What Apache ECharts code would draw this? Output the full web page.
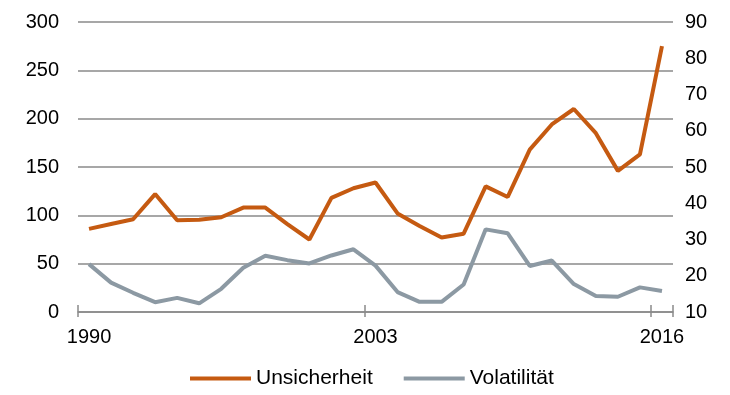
<!DOCTYPE html>
<html>
<head>
<meta charset="utf-8">
<script src="https://cdn.jsdelivr.net/npm/echarts@6/dist/echarts.min.js"></script>
<style>html,body{margin:0;padding:0;background:#fff;}#c{width:730px;height:395px;}</style>
</head>
<body>
<div id="c"></div>
<script>
const years = ['1990','1991','1992','1993','1994','1995','1996','1997','1998','1999','2000','2001','2002','2003','2004','2005','2006','2007','2008','2009','2010','2011','2012','2013','2014','2015','2016'];
const unsicherheit = [86, 91, 96, 122, 95, 95.5, 98, 108, 108, 91, 75, 118, 128, 134, 102, 89, 77, 81, 130, 119, 168, 194, 210, 185, 146, 163, 275];
const volatilitaet = [23.2, 18.1, 15.3, 12.7, 13.9, 12.4, 16.4, 22.2, 25.5, 24.3, 23.4, 25.6, 27.3, 22.8, 15.5, 12.8, 12.8, 17.6, 32.8, 31.7, 22.7, 24.2, 17.7, 14.4, 14.2, 16.8, 15.8];
const leftTicks = {min: 0, max: 300, interval: 50};
const rightTicks = {min: 10, max: 90, interval: 10};

const chart = echarts.init(document.getElementById('c'), null, {renderer: 'canvas'});
const font = 'Liberation Sans, Arial, sans-serif';
const gridColor = '#8a8a8a';
chart.setOption({
  animation: false,
  backgroundColor: '#ffffff',
  grid: {left: 78, right: 57, top: 22, bottom: 83, containLabel: false},
  legend: {
    left: 185, top: 363,
    icon: 'rect', itemWidth: 61, itemHeight: 4, itemGap: 31,
    textStyle: {fontFamily: font, fontSize: 21, color: '#000'},
    data: ['Unsicherheit', 'Volatilität']
  },
  xAxis: [{
    type: 'category', data: years, boundaryGap: true,
    axisLine: {show: true, lineStyle: {color: gridColor, width: 1.5}},
    axisTick: {show: true, interval: 12, length: 5, lineStyle: {color: gridColor, width: 1.5}},
    axisLabel: {interval: 12, margin: 15, fontFamily: font, fontSize: 20, color: '#000'},
    splitLine: {show: false}
  }, {
    type: 'category', data: years, boundaryGap: true, position: 'bottom',
    axisLine: {show: false},
    axisTick: {show: true, inside: true, interval: 12, length: 7, lineStyle: {color: gridColor, width: 1.5}},
    axisLabel: {show: false},
    splitLine: {show: false}
  }],
  yAxis: [{
    type: 'value', position: 'left',
    min: leftTicks.min, max: leftTicks.max, interval: leftTicks.interval,
    axisLine: {show: false}, axisTick: {show: false},
    axisLabel: {margin: 19, fontFamily: font, fontSize: 20, color: '#000'},
    splitLine: {show: true, lineStyle: {color: gridColor, width: 1.5}}
  }, {
    type: 'value', position: 'right',
    min: rightTicks.min, max: rightTicks.max, interval: rightTicks.interval,
    axisLine: {show: false}, axisTick: {show: false},
    axisLabel: {margin: 12, fontFamily: font, fontSize: 20, color: '#000'},
    splitLine: {show: false}
  }],
  series: [{
    name: 'Unsicherheit', type: 'line', xAxisIndex: 0, yAxisIndex: 0,
    data: unsicherheit, symbol: 'none', smooth: false, z: 3,
    itemStyle: {color: '#C55A11'},
    lineStyle: {color: '#C55A11', width: 4}
  }, {
    name: 'Volatilität', type: 'line', xAxisIndex: 0, yAxisIndex: 1,
    data: volatilitaet, symbol: 'none', smooth: false, z: 2,
    itemStyle: {color: '#8C99A3'},
    lineStyle: {color: '#8C99A3', width: 4}
  }]
});
</script>
</body>
</html>
